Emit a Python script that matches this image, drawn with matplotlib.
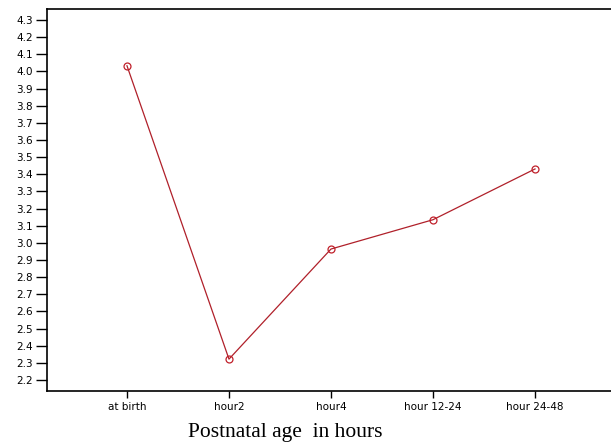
import matplotlib
matplotlib.use('Agg')
import matplotlib.pyplot as plt

categories = ['at birth', 'hour2', 'hour4', 'hour 12-24', 'hour 24-48']
values = [4.033, 2.322, 2.964, 3.135, 3.431]
yticks = [2.2, 2.3, 2.4, 2.5, 2.6, 2.7, 2.8, 2.9, 3.0, 3.1, 3.2, 3.3, 3.4,
          3.5, 3.6, 3.7, 3.8, 3.9, 4.0, 4.1, 4.2, 4.3]

fig = plt.figure(figsize=(6.11, 4.43), dpi=100)
ax = fig.add_axes([47 / 611, 1 - 391 / 443, 1 - 47 / 611, (391 - 9) / 443])

xs = list(range(len(categories)))
ax.plot(xs, values, color='#b0202a', linewidth=0.9,
        marker='o', markersize=5, markerfacecolor='none',
        markeredgecolor='#c0202a', markeredgewidth=0.9)

ax.set_xlim(-0.784, 4.745)
ax.set_ylim(2.136, 4.364)
ax.set_xticks(xs)
ax.set_xticklabels(categories, fontsize=7.5, family='DejaVu Sans')
ax.set_yticks(yticks)
ax.set_yticklabels([f'{v:.1f}' for v in yticks], fontsize=7.5, family='DejaVu Sans')
ax.tick_params(axis='y', length=8, width=1.0, pad=2)
ax.tick_params(axis='x', length=5, width=1.0, pad=3)

ax.spines['right'].set_visible(False)
for s in ['left', 'top', 'bottom']:
    ax.spines[s].set_linewidth(1.2)

fig.text(285 / 611, 1 - 433 / 443, 'Postnatal age  in hours', ha='center', va='center',
         family='Liberation Serif', fontsize=15.5)

fig.savefig('out.png', dpi=100)
